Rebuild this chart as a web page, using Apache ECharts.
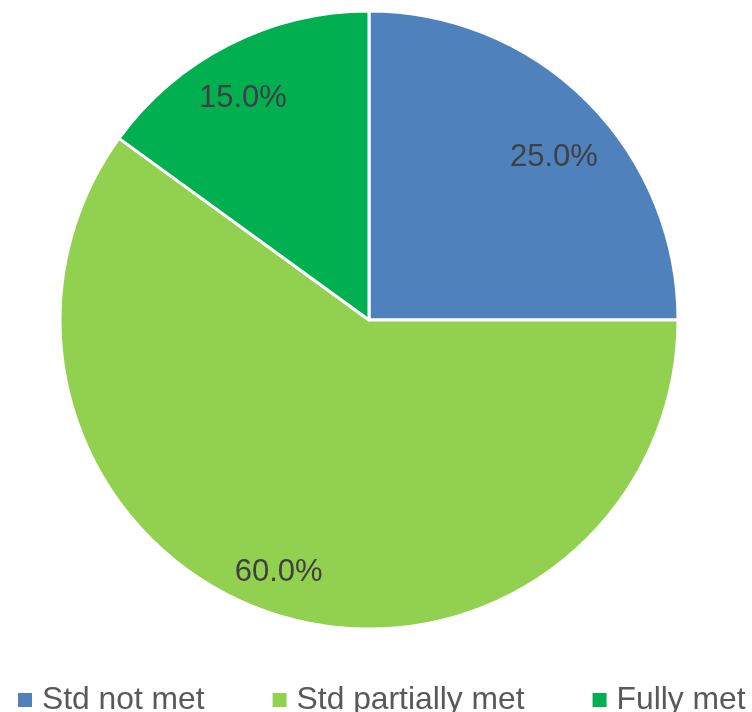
<!DOCTYPE html>
<html>
<head>
<meta charset="utf-8">
<script src="https://cdn.jsdelivr.net/npm/echarts@6/dist/echarts.min.js"></script>
<style>
html,body{margin:0;padding:0;background:#fff;}
#c{width:752px;height:712px;}
</style>
</head>
<body>
<div id="c"></div>
<script>
const categories = ['Std not met', 'Std partially met', 'Fully met'];
const values = [25.0, 60.0, 15.0];
const colors = ['#4F81BD', '#92D050', '#00B050'];
// label nudges (style only) to mimic the original label placement
const labelOffsets = [[1, 21], [-10, 5], [-8, 10]];

const chart = echarts.init(document.getElementById('c'));
chart.setOption({
  animation: false,
  textStyle: { fontFamily: 'Liberation Sans, Arial, sans-serif' },
  legend: {
    left: 13,
    top: 679,
    width: 745,
    orient: 'horizontal',
    itemWidth: 14,
    itemHeight: 14,
    itemGap: 68,
    icon: 'rect',
    itemStyle: { borderWidth: 0 },
    textStyle: { fontSize: 31.8, color: '#595959', padding: [0, 0, 0, 5], fontFamily: 'Liberation Sans, Arial, sans-serif' },
    data: categories
  },
  series: [
    {
      type: 'pie',
      center: [369, 320],
      radius: [0, 309],
      startAngle: 90,
      clockwise: true,
      silent: true,
      itemStyle: { borderColor: '#ffffff', borderWidth: 3 },
      label: { show: false },
      labelLine: { show: false },
      data: categories.map((n, i) => ({ name: n, value: values[i], itemStyle: { color: colors[i] } }))
    },
    {
      type: 'pie',
      center: [369, 320],
      radius: [214, 300],
      startAngle: 90,
      clockwise: true,
      silent: true,
      legendHoverLink: false,
      itemStyle: { color: 'rgba(0,0,0,0)', borderWidth: 0 },
      label: {
        show: true,
        position: 'inside',
        fontSize: 31,
        color: '#404040',
        fontFamily: 'Liberation Sans, Arial, sans-serif',
        formatter: p => p.value.toFixed(1) + '%'
      },
      labelLine: { show: false },
      data: categories.map((n, i) => ({ name: n, value: values[i], label: { offset: labelOffsets[i] } }))
    }
  ]
});
</script>
</body>
</html>
